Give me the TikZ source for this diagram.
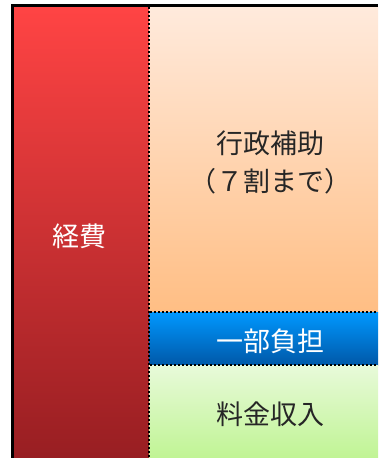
\documentclass[tikz,border=0pt]{standalone}
\usepackage{fontspec}
\newfontfamily\jp{Noto Sans CJK JP}
\definecolor{redtop}{RGB}{255,68,68}
\definecolor{redbot}{RGB}{152,30,34}
\definecolor{ortop}{RGB}{255,234,220}
\definecolor{orbot}{RGB}{255,190,132}
\definecolor{bltop}{RGB}{0,152,255}
\definecolor{blbot}{RGB}{0,88,168}
\definecolor{grtop}{RGB}{232,250,218}
\definecolor{grbot}{RGB}{192,244,148}
\begin{document}
\begin{tikzpicture}[x=1bp,y=-1bp,
  lbl/.style={font=\jp\fontsize{27bp}{38bp}\selectfont, align=center, inner sep=0pt},
  dots/.style={line width=2bp, dash pattern=on 2bp off 2bp, black},
  frame/.style={line width=3bp, black}]
\useasboundingbox (0,0) rectangle (378,458);
% fills
\shade[top color=redtop, bottom color=redbot] (14,7) rectangle (149,458);
\shade[top color=ortop, bottom color=orbot] (149,7) rectangle (378,312);
\shade[top color=bltop, bottom color=blbot] (149,312) rectangle (378,365);
\shade[top color=grtop, bottom color=grbot] (149,365) rectangle (378,458);
% coordinates for lines
\coordinate (tl) at (12.5,5.5);
\coordinate (bl) at (12.5,458);
\coordinate (tr) at (378,5.5);
\coordinate (vtop) at (149,7);
\coordinate (vbot) at (149,458);
\coordinate (h1l) at (150,312);
\coordinate (h1r) at (378,312);
\coordinate (h2l) at (150,365);
\coordinate (h2r) at (378,365);
% frame
\draw[frame] (bl) -- (tl) -- (tr);
% dotted dividers
\draw[dots] (vtop) -- (vbot);
\draw[dots] (h1l) -- (h1r);
\draw[dots] (h2l) -- (h2r);
% labels
\node[lbl, white] (keihi) at (79,236) {経費};
\node[lbl, black!85] (gyosei) at (270,162) {行政補助\\（７割まで）};
\node[lbl, white] (ichibu) at (270,341) {一部負担};
\node[lbl, black!85] (ryokin) at (270,414) {料金収入};
\end{tikzpicture}
\end{document}
